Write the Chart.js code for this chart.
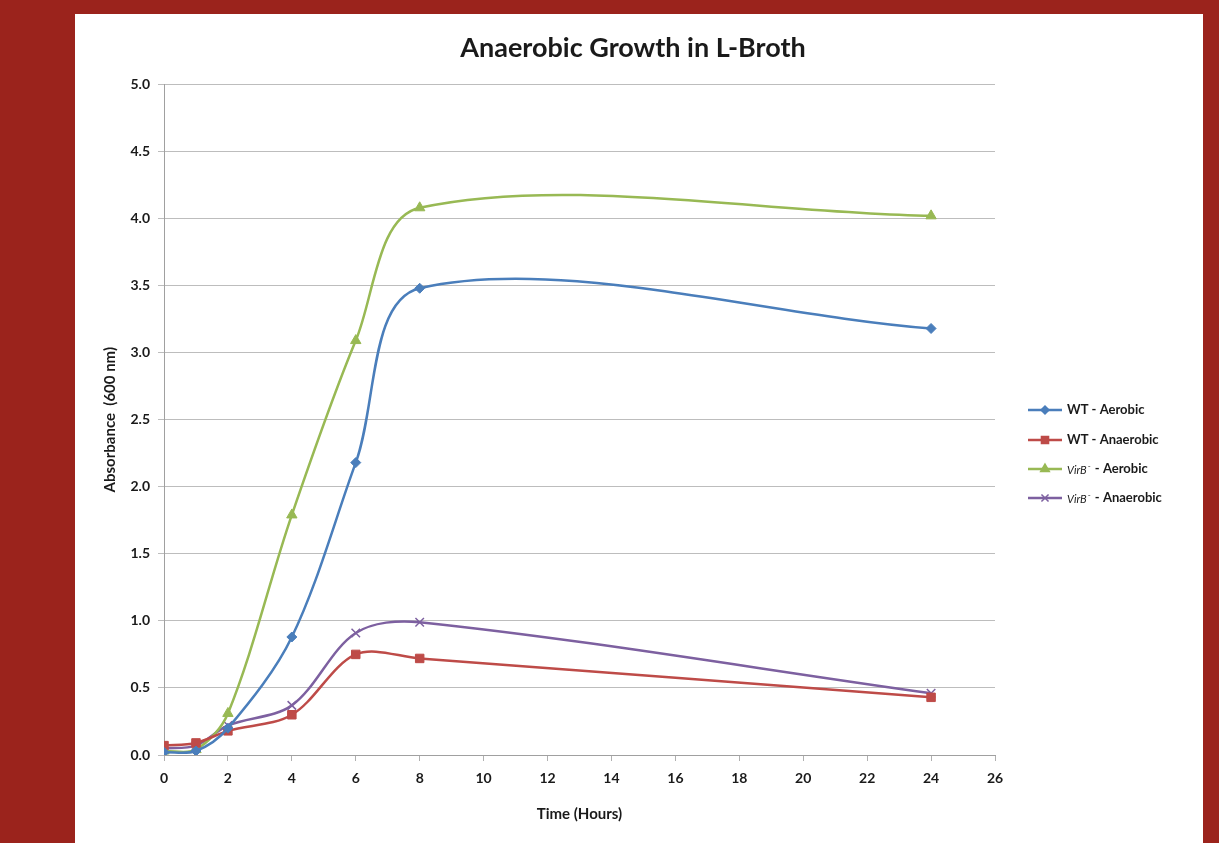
<!DOCTYPE html>
<html lang="en">
<head>
  <meta charset="UTF-8">
  <title>Anaerobic Growth in L-Broth</title>
  <script src="https://cdn.jsdelivr.net/npm/chart.js"></script>
  <style>
    body { margin: 0; background: #9b231c; width: 1219px; height: 843px; overflow: hidden; }
    .panel { position: absolute; left: 75px; top: 14px; width: 1128px; height: 829px; background: #fff; }
  </style>
</head>
<body>
  <div class="panel">
    <canvas id="growthChart" width="1128" height="829"></canvas>
  </div>

  <script>
    // sampling times and absorbance readings
    const hours = [0, 1, 2, 4, 6, 8, 24];
    const wtAerobic = [0.02, 0.03, 0.20, 0.88, 2.18, 3.48, 3.18];
    const wtAnaerobic = [0.07, 0.09, 0.18, 0.30, 0.75, 0.72, 0.43];
    const virAerobic = [0.03, 0.04, 0.31, 1.79, 3.09, 4.08, 4.02];
    const virAnaerobic = [0.05, 0.07, 0.22, 0.37, 0.91, 0.99, 0.46];

    const FONT = 'Lato, "Open Sans", sans-serif';

    function pts(values) {
      return hours.map((h, i) => ({ x: h, y: values[i] }));
    }

    const series = [
      { label: 'WT - Aerobic', data: wtAerobic, color: '#4a7ebb', style: 'rectRot', r: 5, strain: 'WT', cond: 'Aerobic' },
      { label: 'WT - Anaerobic', data: wtAnaerobic, color: '#be4b48', style: 'rect', r: 6, strain: 'WT', cond: 'Anaerobic' },
      { label: 'VirB- - Aerobic', data: virAerobic, color: '#98b954', style: 'triangle', r: 6, strain: 'VirB', cond: 'Aerobic' },
      { label: 'VirB- - Anaerobic', data: virAnaerobic, color: '#7d60a0', style: 'crossRot', r: 6, strain: 'VirB', cond: 'Anaerobic' }
    ];

    // legend drawn like the spreadsheet one: short line + marker, mixed fonts
    const sheetLegend = {
      id: 'sheetLegend',
      afterDraw(chart) {
        const ctx = chart.ctx;
        const x0 = 953, lineLen = 34;
        const rows = [396, 426, 455, 484];
        ctx.save();
        chart.data.datasets.forEach((ds, i) => {
          const y = rows[i];
          ctx.strokeStyle = ds.borderColor;
          ctx.lineWidth = 2.5;
          ctx.beginPath();
          ctx.moveTo(x0, y);
          ctx.lineTo(x0 + lineLen, y);
          ctx.stroke();
          ctx.fillStyle = ds.borderColor;
          ctx.lineWidth = 1.5;
          Chart.helpers.drawPoint(ctx, { pointStyle: ds.pointStyle, radius: ds.pointRadius - 1, borderWidth: 1.5 }, x0 + lineLen / 2, y);

          let tx = x0 + lineLen + 5;
          ctx.textBaseline = 'middle';
          ctx.fillStyle = '#1a1a1a';
          const s = series[i];
          if (s.strain === 'WT') {
            ctx.font = 'bold 13px ' + FONT;
            ctx.fillText('WT', tx, y);
            tx += ctx.measureText('WT').width;
          } else {
            ctx.font = 'italic 11px ' + FONT;
            ctx.fillText('VirB', tx, y + 1);
            tx += ctx.measureText('VirB').width + 1;
            ctx.font = '8px ' + FONT;
            ctx.fillText('-', tx, y - 3);
            tx += ctx.measureText('-').width + 1;
          }
          ctx.font = 'bold 13px ' + FONT;
          ctx.fillText(' - ' + s.cond, tx, y);
        });
        ctx.restore();
      }
    };

    new Chart(document.getElementById('growthChart'), {
      type: 'line',
      data: {
        datasets: series.map(s => ({
          label: s.label,
          data: pts(s.data),
          borderColor: s.color,
          backgroundColor: s.color,
          borderWidth: 2.5,
          pointStyle: s.style,
          pointRadius: s.r,
          pointBorderWidth: s.style === 'crossRot' ? 1.5 : 1,
          tension: 0.33,
          fill: false
        }))
      },
      options: {
        responsive: false,
        animation: false,
        layout: { padding: { left: 0, right: 12, top: 0, bottom: 0 } },
        plugins: {
          legend: { display: false },
          tooltip: { enabled: false },
          title: {
            display: true,
            text: 'Anaerobic Growth in L-Broth',
            color: '#1a1a1a',
            font: { family: FONT, size: 27, weight: 'bold', lineHeight: 1.2 },
            padding: { top: 18, bottom: 20 }
          }
        },
        scales: {
          x: {
            type: 'linear',
            min: 0,
            max: 26,
            afterFit(scale) { scale.height = 88; },
            ticks: { stepSize: 2, color: '#1a1a1a', padding: 9, font: { family: FONT, size: 14, weight: 'bold' } },
            grid: { drawOnChartArea: false, color: '#b0b0b0', tickLength: 6 },
            border: { color: '#a0a0a0' },
            title: {
              display: true,
              text: 'Time (Hours)',
              color: '#1a1a1a',
              font: { family: FONT, size: 15, weight: 'bold' },
              padding: { top: 0, bottom: 20 }
            }
          },
          y: {
            min: 0,
            max: 5,
            afterFit(scale) { scale.width = 89; },
            ticks: {
              stepSize: 0.5,
              color: '#1a1a1a',
              padding: 8,
              font: { family: FONT, size: 14, weight: 'bold' },
              callback: v => v.toFixed(1)
            },
            grid: { color: '#bdbdbd', tickLength: 6 },
            border: { color: '#a0a0a0' },
            title: {
              display: true,
              text: 'Absorbance  (600 nm)',
              color: '#1a1a1a',
              font: { family: FONT, size: 15, weight: 'bold' },
              padding: { top: 26, bottom: 0 }
            }
          },
          // empty right-hand axis that keeps room for the legend
          legendSpace: {
            type: 'linear',
            position: 'right',
            min: 0,
            max: 5,
            afterFit(scale) { scale.width = 196; },
            ticks: { display: false },
            grid: { display: false, drawTicks: false },
            border: { display: false }
          }
        }
      },
      plugins: [sheetLegend]
    });
  </script>
</body>
</html>
